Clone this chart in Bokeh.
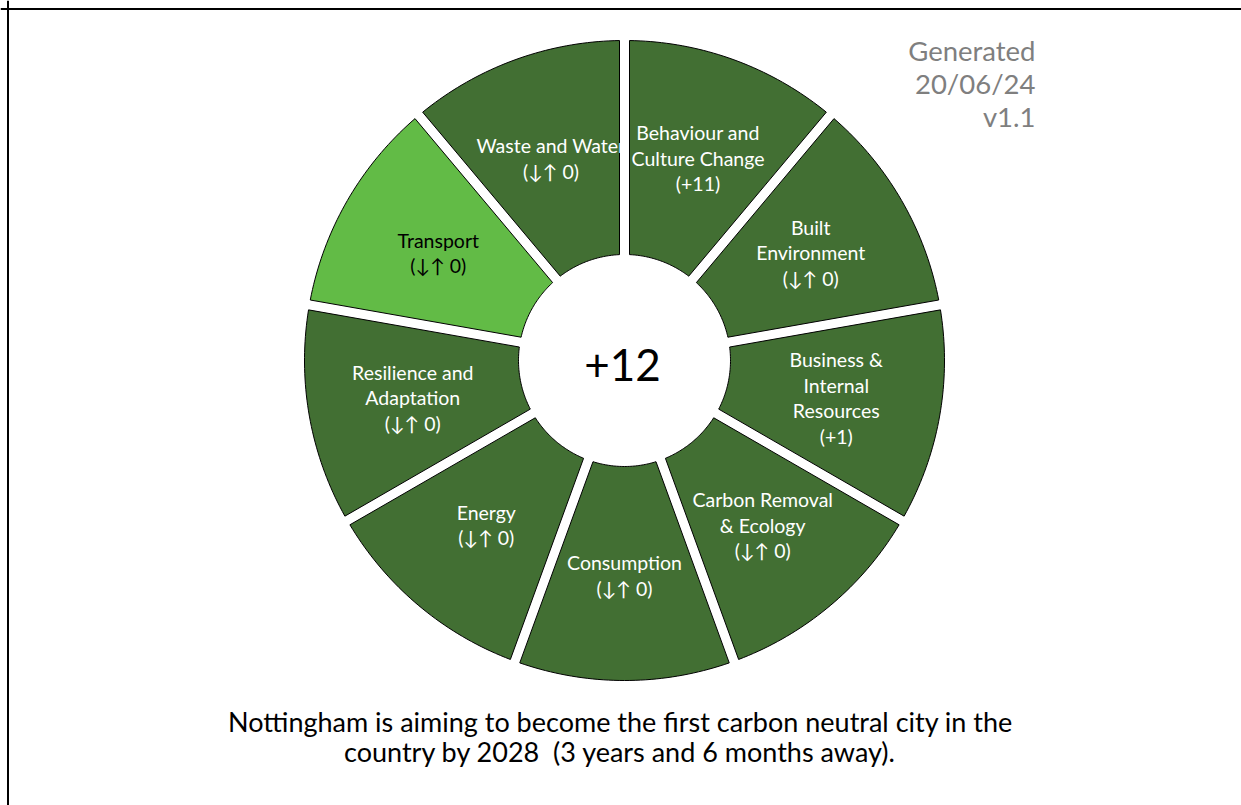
import math
import textwrap

from bokeh.plotting import figure
from bokeh.models import ColumnDataSource, Range1d, Span, CDSView, IndexFilter
from bokeh.core.properties import value
from bokeh.embed import file_html
from bokeh.resources import INLINE

# ---------------- data ----------------
categories = [
    "Behaviour and Culture Change",
    "Built Environment",
    "Business & Internal Resources",
    "Carbon Removal & Ecology",
    "Consumption",
    "Energy",
    "Resilience and Adaptation",
    "Transport",
    "Waste and Water",
]
changes = [11, 0, 1, 0, 0, 0, 0, 0, 0]
highlighted = ["Transport"]
generated_date = "20/06/24"
version = "v1.1"
target_year = 2028
time_left = "3 years and 6 months away"

# ---------------- style / layout ----------------
W, H = 1241, 805
CX, CY = 624, 360           # page position of the donut centre
R_OUT, R_IN = 320, 106
HALF_GAP = 5
R_LABEL = 215
DARK = "#426F33"
LIGHT = "#62BB46"
FONT = "Lato"

n = len(categories)
step = 360.0 / n

xs, ys, fills, lx, ly, ltxt, lcol = [], [], [], [], [], [], []
for i, (cat, ch) in enumerate(zip(categories, changes)):
    a_hi = 90 - i * step
    a_lo = 90 - (i + 1) * step
    do = math.degrees(math.asin(HALF_GAP / R_OUT))
    di = math.degrees(math.asin(HALF_GAP / R_IN))
    m = 40
    px, py = [], []
    for k in range(m + 1):
        a = math.radians((a_lo + do) + (a_hi - a_lo - 2 * do) * k / m)
        px.append(R_OUT * math.cos(a)); py.append(R_OUT * math.sin(a))
    for k in range(m + 1):
        a = math.radians((a_hi - di) - (a_hi - a_lo - 2 * di) * k / m)
        px.append(R_IN * math.cos(a)); py.append(R_IN * math.sin(a))
    xs.append(px); ys.append(py)
    hl = cat in highlighted
    fills.append(LIGHT if hl else DARK)
    mid = math.radians(90 - (i + 0.5) * step)
    lx.append(R_LABEL * math.cos(mid)); ly.append(R_LABEL * math.sin(mid))
    tag = f"{ch:+d}" if ch != 0 else "\u2193\u2191 0"
    ltxt.append("\n".join(textwrap.wrap(cat, 15)) + f"\n({tag})")
    lcol.append("black" if hl else "white")

wedges = ColumnDataSource(dict(xs=xs, ys=ys, fill=fills))
labels = ColumnDataSource(dict(x=lx, y=ly, text=ltxt, color=lcol))

p = figure(width=W, height=H, output_backend="svg", toolbar_location=None,
           x_range=Range1d(-CX, W - CX), y_range=Range1d(CY - H, CY),
           min_border=0, match_aspect=False)
p.axis.visible = False
p.grid.visible = False
p.outline_line_color = None
p.background_fill_color = "white"
p.border_fill_color = "white"

# frame (left and top edges)
p.add_layout(Span(location=7.5 - CX, dimension="height", line_color="black", line_width=2))
p.add_layout(Span(location=CY - 8.5, dimension="width", line_color="black", line_width=2))

first = [0]
rest = list(range(1, n))
LBL = dict(text_color="color", text_font=value(FONT), text_font_size="19.5px",
           text_align="center", text_baseline="middle", text_line_height=1.11)

p.patches("xs", "ys", source=wedges, view=CDSView(filter=IndexFilter(rest)),
          fill_color="fill", line_color="black", line_width=1)
p.text("x", "y", text="text", source=labels, view=CDSView(filter=IndexFilter(rest)), **LBL)
p.patches("xs", "ys", source=wedges, view=CDSView(filter=IndexFilter(first)),
          fill_color="fill", line_color="black", line_width=1)
p.text("x", "y", text="text", source=labels, view=CDSView(filter=IndexFilter(first)), **LBL)

total = sum(changes)
p.text(x=[622 - CX], y=[CY - 364], text=[f"{total:+d}"], text_color="black",
       text_font=value(FONT), text_font_size="44px",
       text_align="center", text_baseline="middle")

p.text(x=[1035 - CX], y=[CY - 83], text=[f"Generated\n{generated_date}\n{version}"],
       text_color="#7F7F7F", text_font=value(FONT), text_font_size="27.5px",
       text_align="right", text_baseline="middle", text_line_height=1.0)

footer = (f"Nottingham is aiming to become the first carbon neutral city in the\n"
          f"country by {target_year}\u00a0 ({time_left}).")
p.text(x=[620 - CX], y=[CY - 736], text=[footer], text_color="black",
       text_font=value(FONT), text_font_size="27px",
       text_align="center", text_baseline="middle", text_line_height=0.93)

open("out.html", "w").write(file_html(p, INLINE))
